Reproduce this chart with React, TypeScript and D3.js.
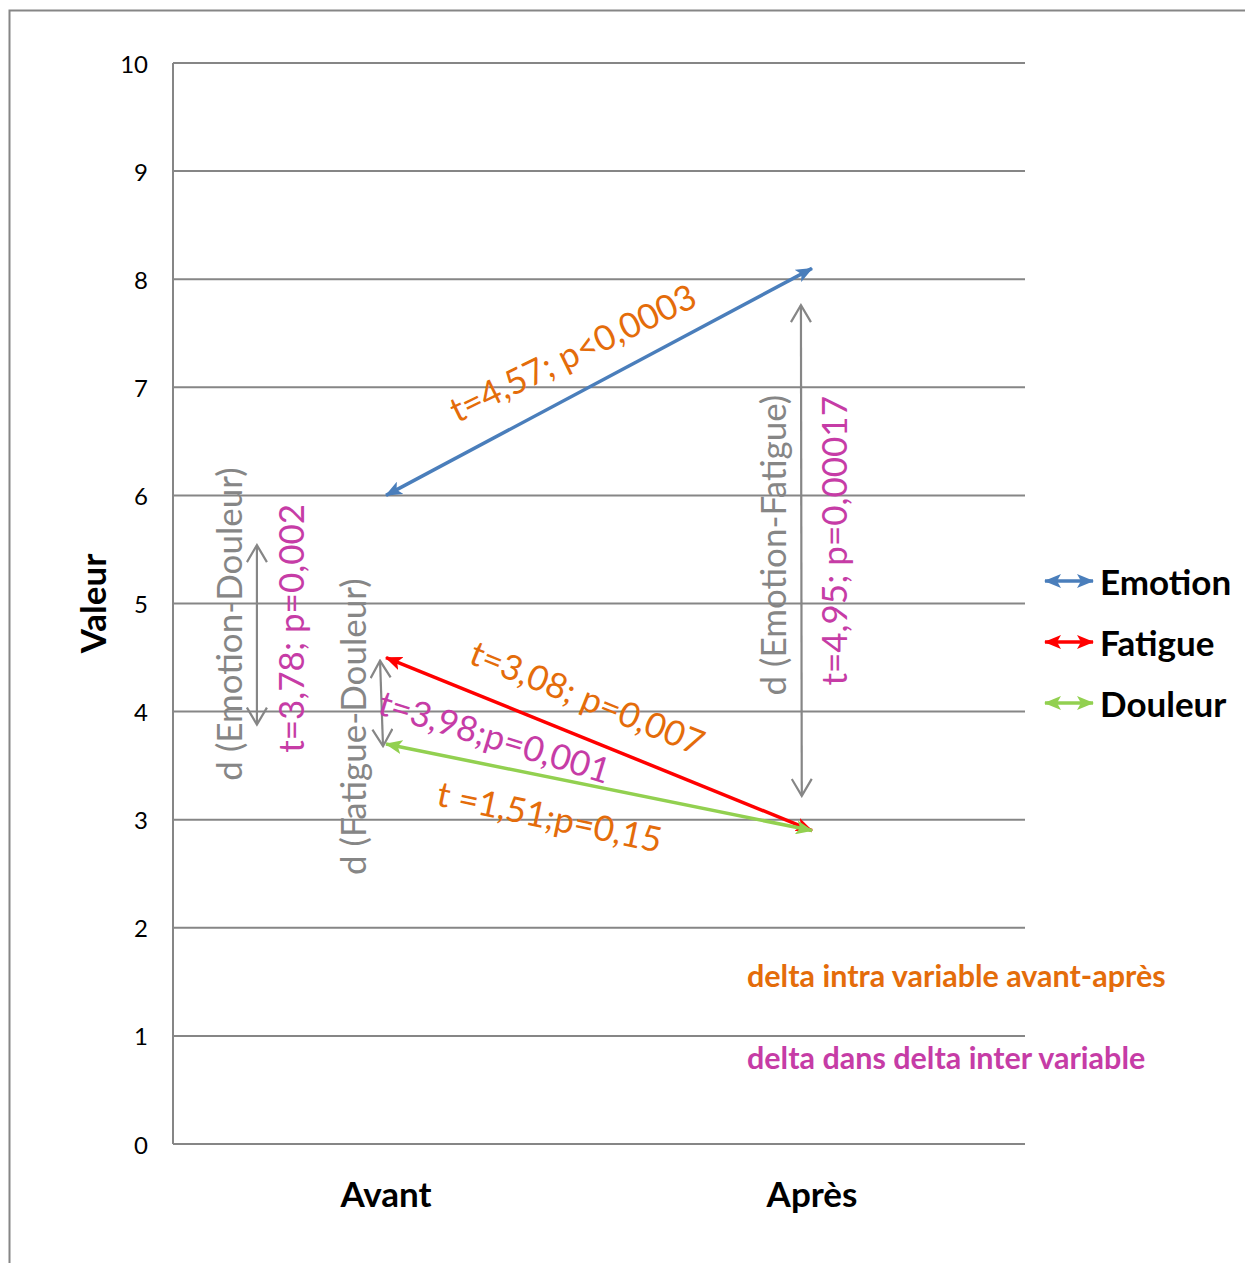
import React, { useEffect, useRef } from 'react';
import * as d3 from 'd3';

// chart data
const categories = ['Avant', 'Après'];
const seriesNames = ['Emotion', 'Fatigue', 'Douleur'];
const emotionValues = [6.0, 8.1];
const fatigueValues = [4.5, 2.9];
const douleurValues = [3.7, 2.9];
const yTicks = [0, 1, 2, 3, 4, 5, 6, 7, 8, 9, 10];

// gray "difference" arrows: [label, from value, to value]
const gapLabels = ['d (Emotion-Douleur)', 'd (Fatigue-Douleur)', 'd (Emotion-Fatigue)'];
const gapFrom = [3.88, 3.68, 3.22];
const gapTo = [5.54, 4.47, 7.76];

const intraLabels = ['t=4,57; p<0,0003', 't=3,08; p=0,007', 't =1,51;p=0,15'];
const interLabels = ['t=3,78; p=0,002', 't=3,98;p=0,001', 't=4,95; p=0,00017'];
const noteLabels = ['delta intra variable avant-après', 'delta dans delta inter variable'];

const W = 1245;
const H = 1263;
const FONT = "Lato, 'Open Sans', sans-serif";
const GRID = '#868686';
const ORANGE = '#e46c0a';
const MAGENTA = '#c63ca6';
const colors = ['#4a7ebb', '#ff0000', '#92d050'];

const App: React.FC = () => {
  const svgRef = useRef<SVGSVGElement>(null);

  useEffect(() => {
    document.body.style.margin = '0';
    if (!svgRef.current) return;
    const svg = d3.select(svgRef.current);
    svg.selectAll('*').remove();

    const left = 173, right = 1025, top = 63, bottom = 1144;

    const x = d3.scalePoint<string>().domain(categories).range([left, right]).padding(0.5);
    // continuous position between the two categories (0 = Avant, 1 = Après)
    const xc = d3.scaleLinear().domain([0, 1]).range([x(categories[0])!, x(categories[1])!]);
    const y = d3.scaleLinear().domain([0, 10]).range([bottom, top]);

    const defs = svg.append('defs');
    colors.forEach((c, i) => {
      defs.append('marker')
        .attr('id', `head${i}`)
        .attr('viewBox', '0 -7 17 14')
        .attr('refX', 16).attr('refY', 0)
        .attr('markerWidth', 17).attr('markerHeight', 14)
        .attr('markerUnits', 'userSpaceOnUse')
        .attr('orient', 'auto-start-reverse')
        .append('path')
        .attr('d', 'M0,-7L17,0L0,7L4,0Z')
        .attr('fill', c);
    });
    defs.append('marker')
      .attr('id', 'openHead')
      .attr('viewBox', '-1 -11 20 22')
      .attr('refX', 17).attr('refY', 0)
      .attr('markerWidth', 20).attr('markerHeight', 22)
      .attr('markerUnits', 'userSpaceOnUse')
      .attr('orient', 'auto-start-reverse')
      .append('path')
      .attr('d', 'M0,-10L17,0L0,10')
      .attr('fill', 'none')
      .attr('stroke', GRID)
      .attr('stroke-width', 2.2);

    // outer frame
    svg.append('rect')
      .attr('x', 9.5).attr('y', 10.5)
      .attr('width', W + 20).attr('height', H + 20)
      .attr('fill', 'white').attr('stroke', GRID).attr('stroke-width', 2);

    // gridlines + y axis
    svg.append('g').selectAll('line').data(yTicks).enter().append('line')
      .attr('x1', left).attr('x2', right)
      .attr('y1', d => y(d)).attr('y2', d => y(d))
      .attr('stroke', GRID).attr('stroke-width', 2);
    svg.append('line')
      .attr('x1', left).attr('x2', left).attr('y1', top).attr('y2', bottom)
      .attr('stroke', GRID).attr('stroke-width', 2);

    svg.append('g').selectAll('text').data(yTicks).enter().append('text')
      .attr('x', 148).attr('y', d => y(d))
      .attr('text-anchor', 'end').attr('dominant-baseline', 'central')
      .attr('font-family', FONT).attr('font-size', 24).attr('fill', '#000')
      .text(d => d);

    svg.append('text')
      .attr('transform', `translate(92,${y(5)}) rotate(-90)`)
      .attr('text-anchor', 'middle').attr('dominant-baseline', 'central')
      .attr('font-family', FONT).attr('font-weight', 'bold').attr('font-size', 35)
      .text('Valeur');

    svg.append('g').selectAll('text').data(categories).enter().append('text')
      .attr('x', d => x(d)!).attr('y', 1193)
      .attr('text-anchor', 'middle').attr('dominant-baseline', 'central')
      .attr('font-family', FONT).attr('font-weight', 'bold').attr('font-size', 35)
      .text(d => d);

    // series arrows
    const seriesValues = [emotionValues, fatigueValues, douleurValues];
    seriesValues.forEach((vals, i) => {
      svg.append('line')
        .attr('x1', x(categories[0])!).attr('y1', y(vals[0]))
        .attr('x2', x(categories[1])!).attr('y2', y(vals[1]))
        .attr('stroke', colors[i]).attr('stroke-width', 3.5)
        .attr('marker-start', `url(#head${i})`)
        .attr('marker-end', `url(#head${i})`);
    });

    // gray gap arrows, placed in category units
    const gapAt = [[-0.303, -0.303], [-0.007, -0.014], [0.976, 0.974]];
    gapLabels.forEach((_, i) => {
      svg.append('line')
        .attr('x1', xc(gapAt[i][0])).attr('y1', y(gapFrom[i]))
        .attr('x2', xc(gapAt[i][1])).attr('y2', y(gapTo[i]))
        .attr('stroke', GRID).attr('stroke-width', 2.2)
        .attr('marker-start', 'url(#openHead)')
        .attr('marker-end', 'url(#openHead)');
    });

    // rotated annotation texts: [text, colour, position (cat units), value, angle]
    const annotations: [string, string, number, number, number][] = [
      [intraLabels[0], ORANGE, 0.437, 7.33, -26],
      [intraLabels[1], ORANGE, 0.474, 4.14, 22],
      [intraLabels[2], ORANGE, 0.385, 3.04, 12],
      [interLabels[0], MAGENTA, -0.225, 4.77, -90],
      [interLabels[1], MAGENTA, 0.256, 3.78, 17],
      [interLabels[2], MAGENTA, 1.049, 5.58, -90],
      [gapLabels[0], GRID, -0.371, 4.81, -90],
      [gapLabels[1], GRID, -0.080, 3.86, -90],
      [gapLabels[2], GRID, 0.906, 5.54, -90],
    ];
    svg.append('g').selectAll('text').data(annotations).enter().append('text')
      .attr('transform', d => `translate(${xc(d[2])},${y(d[3])}) rotate(${d[4]})`)
      .attr('text-anchor', 'middle').attr('dominant-baseline', 'central')
      .attr('font-family', FONT).attr('font-size', 35)
      .attr('fill', d => d[1])
      .text(d => d[0]);

    // legend
    const legend = svg.append('g').attr('transform', 'translate(1045,581)');
    seriesNames.forEach((name, i) => {
      const g = legend.append('g').attr('transform', `translate(0,${i * 61})`);
      g.append('line')
        .attr('x1', 0).attr('x2', 48).attr('y1', 0).attr('y2', 0)
        .attr('stroke', colors[i]).attr('stroke-width', 3.5)
        .attr('marker-start', `url(#head${i})`)
        .attr('marker-end', `url(#head${i})`);
      g.append('text')
        .attr('x', 55).attr('y', 0)
        .attr('dominant-baseline', 'central')
        .attr('font-family', FONT).attr('font-weight', 'bold').attr('font-size', 35)
        .text(name);
    });

    // notes
    const noteColors = [ORANGE, MAGENTA];
    const noteY = [975, 1057];
    noteLabels.forEach((t, i) => {
      svg.append('text')
        .attr('x', 747).attr('y', noteY[i])
        .attr('dominant-baseline', 'central')
        .attr('font-family', FONT).attr('font-weight', 'bold').attr('font-size', 30.5)
        .attr('fill', noteColors[i])
        .text(t);
    });
  }, []);

  return <svg ref={svgRef} width={W} height={H} style={{ display: 'block' }} />;
};

export default App;
